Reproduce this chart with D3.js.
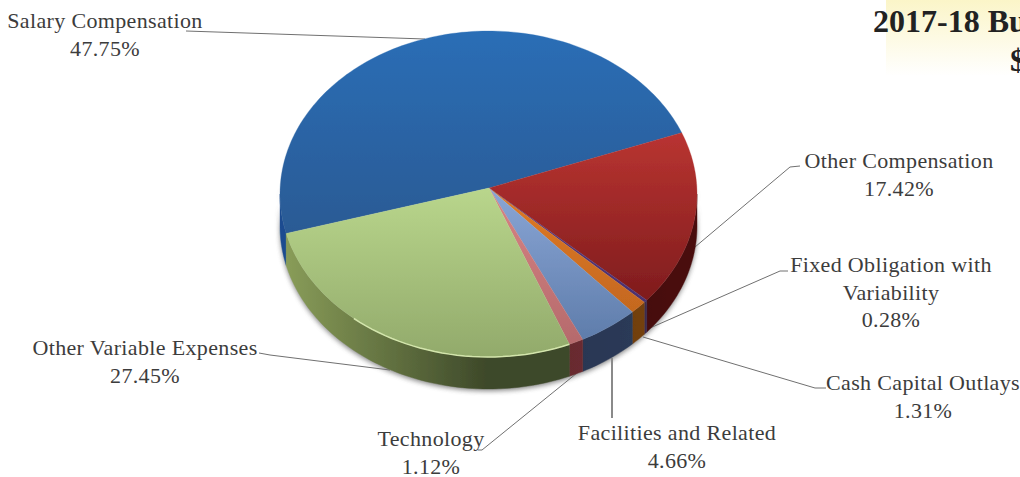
<!DOCTYPE html>
<html><head><meta charset="utf-8">
<script src="https://cdn.jsdelivr.net/npm/d3@7"></script>
<style>html,body{margin:0;padding:0;background:#fff;overflow:hidden}svg{display:block}
text{font-family:"Liberation Serif",serif;fill:#3c3c3c;font-size:22px;letter-spacing:.35px}</style></head><body>
<svg id="c" width="1020" height="477"></svg>
<script>
const categories=["Salary Compensation","Other Compensation","Fixed Obligation with Variability","Cash Capital Outlays","Facilities and Related","Technology","Other Variable Expenses"];
const values=[47.75,17.42,0.28,1.31,4.66,1.12,27.45];
const topColors=[["#2a6eb6","#2b5a94"],["#b93431","#7f1c1d"],["#5a3c80","#4a3070"],["#e07a26","#c4681f"],["#8aa6d6","#5f7dab"],["#d88484","#b56a6c"],["#b9d68c","#92aa6b"]];
const wallColors=[["#1a4c90","#1a4c90"],["#4a0f10","#2f0909"],["#3a2a50","#3a2a50"],["#744010","#4f2c08"],["#2b3a58","#25304a"],["#6a2c30","#5c282a"],["#8b9f5a","#3d4829"]];
const labelLines=[["Salary Compensation","47.75%"],["Other Compensation","17.42%"],["Fixed Obligation with","Variability","0.28%"],["Cash Capital Outlays","1.31%"],["Facilities and Related","4.66%"],["Technology","1.12%"],["Other Variable Expenses","27.45%"]];
const labelAnchors=[[105,28],[899,168],[891,272],[923,390],[677,440],[431,446],[145,355]];
const leaders=[[[186,31],[425,39]],[[800,166],[790,167],[695,247]],[[788,271],[780,271],[650,328]],[[826,388],[815,388],[643,337]],[[612,358],[612,418]],[[577,373],[482,450],[478,450]],[[390,370],[270,355],[259,353]]];
const leaderWidths=[1,1,1,1,2,1,1];
const titleLines=["2017-18 Bu","$"];

const svg=d3.select("#c"),defs=svg.append("defs");
const cx=488.5,cy=194,rx=208.5,ry=163,depth=32,apexX=489,apexY=188;
const pie=d3.pie().sort(null).value(d=>d).startAngle(256*Math.PI/180).endAngle((256+360)*Math.PI/180);
const arcs=pie(values);
const px=a=>cx+rx*Math.sin(a),py=a=>cy-ry*Math.cos(a);
const samples=(a0,a1,n)=>d3.range(0,n+1).map(k=>a0+(a1-a0)*k/n);

function topPath(d){
 const p=d3.path();p.moveTo(apexX,apexY);
 samples(d.startAngle,d.endAngle,Math.max(3,Math.ceil((d.endAngle-d.startAngle)*40))).forEach(a=>p.lineTo(px(a),py(a)));
 p.closePath();return p.toString();
}
function wallPath(a0,a1){
 const pts=samples(a0,a1,Math.max(3,Math.ceil((a1-a0)*40)));
 const p=d3.path();
 pts.forEach((a,k)=>k?p.lineTo(px(a),py(a)):p.moveTo(px(a),py(a)));
 pts.slice().reverse().forEach(a=>p.lineTo(px(a),py(a)+depth));
 p.closePath();return p.toString();
}

const f1=defs.append("filter").attr("id","soft").attr("x","-10%").attr("y","-10%").attr("width","120%").attr("height","120%");
f1.append("feGaussianBlur").attr("stdDeviation",2.5);
defs.append("filter").attr("id","sm").append("feGaussianBlur").attr("stdDeviation",0.5);
defs.append("filter").attr("id","pieSoft").attr("x","-2%").attr("y","-2%").attr("width","104%").attr("height","104%")
 .append("feGaussianBlur").attr("stdDeviation",0.45);
const tg=defs.append("linearGradient").attr("id","tbg").attr("x1",0).attr("y1",0).attr("x2",0).attr("y2",1);
tg.append("stop").attr("offset",0).attr("stop-color","#fbf5c8");
tg.append("stop").attr("offset",1).attr("stop-color","#ffffff");
arcs.forEach((d,i)=>{
 const ys=samples(d.startAngle,d.endAngle,40).map(py).concat(apexY);
 const g=defs.append("linearGradient").attr("id","t"+i).attr("gradientUnits","userSpaceOnUse")
  .attr("x1",0).attr("x2",0).attr("y1",d3.min(ys)).attr("y2",d3.max(ys));
 g.append("stop").attr("offset",0).attr("stop-color",topColors[i][0]);
 g.append("stop").attr("offset",1).attr("stop-color",topColors[i][1]);
 const w=defs.append("linearGradient").attr("id","w"+i).attr("gradientUnits","userSpaceOnUse")
  .attr("x1",i==6?cx-rx:px(Math.max(d.startAngle,Math.PI/2))).attr("x2",i==6?cx:px(Math.min(d.endAngle,Math.PI))).attr("y1",0).attr("y2",0);
 w.append("stop").attr("offset",0).attr("stop-color",wallColors[i][0]);
 w.append("stop").attr("offset",1).attr("stop-color",wallColors[i][1]);
});

const title=svg.append("g");
title.append("rect").attr("x",886).attr("y",0).attr("width",134).attr("height",76).attr("fill","url(#tbg)");
title.selectAll("text").data(titleLines).join("text").attr("x",(d,i)=>i?1010:873).attr("y",(d,i)=>i?71:32)
 .style("font-weight","bold").style("font-size","32px").style("letter-spacing","0").style("fill","#222").text(d=>d);

const segs=[];
arcs.forEach((d,i)=>{
 [0,2*Math.PI].forEach(off=>{
  const a0=Math.max(d.startAngle-off,Math.PI/2),a1=Math.min(d.endAngle-off,3*Math.PI/2);
  if(a1>a0)segs.push({i,a0,a1});
 });
});
svg.append("path").attr("d",wallPath(Math.PI/2-0.05,3*Math.PI/2+0.05)).attr("transform","translate(0,2)")
 .attr("fill","#555").attr("filter","url(#soft)").attr("opacity",.7);

svg.append("g").selectAll("path").data(leaders).join("path").attr("d",d3.line()).attr("fill","none")
 .attr("stroke",(d,i)=>leaderWidths[i]>1?"#8a8a8a":"#707070").attr("stroke-width",(d,i)=>leaderWidths[i]);

const body=svg.append("g").attr("filter","url(#pieSoft)");
body.append("g").selectAll("path").data(segs).join("path").attr("d",s=>wallPath(s.a0,s.a1))
 .attr("fill",s=>`url(#w${s.i})`).attr("stroke",s=>`url(#w${s.i})`).attr("stroke-width",.4);
body.append("g").selectAll("path").data(arcs).join("path").attr("d",topPath).attr("fill",(d,i)=>`url(#t${i})`)
 .attr("stroke",(d,i)=>`url(#t${i})`).attr("stroke-width",.3);

const rimLine=d3.line().x(px).y(py);
const g6=arcs[6];
body.append("path").attr("d",rimLine(samples(g6.startAngle,g6.startAngle+1.1,30)))
 .attr("fill","none").attr("stroke","#d3e5ac").attr("stroke-width",1.5).attr("filter","url(#sm)");

svg.append("g").selectAll("text").data(labelLines).join("text").attr("text-anchor","middle")
 .attr("transform",(d,i)=>`translate(${labelAnchors[i][0]},${labelAnchors[i][1]})`)
 .each(function(d){d3.select(this).selectAll("tspan").data(d).join("tspan").attr("x",0).attr("dy",(t,k)=>k?27.5:0).text(t=>t)});
</script></body></html>
